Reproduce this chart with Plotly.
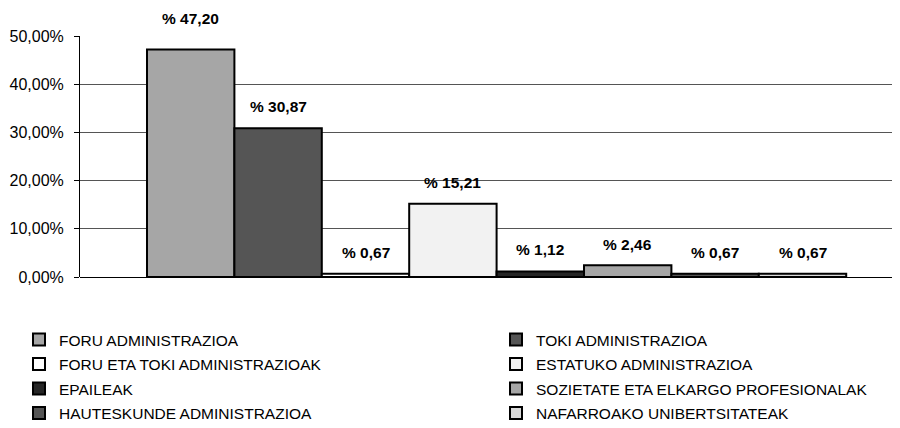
import plotly.graph_objects as go

series_names = [
    "FORU ADMINISTRAZIOA",
    "TOKI ADMINISTRAZIOA",
    "FORU ETA TOKI ADMINISTRAZIOAK",
    "ESTATUKO ADMINISTRAZIOA",
    "EPAILEAK",
    "SOZIETATE ETA ELKARGO PROFESIONALAK",
    "HAUTESKUNDE ADMINISTRAZIOA",
    "NAFARROAKO UNIBERTSITATEAK",
]
values = [47.20, 30.87, 0.67, 15.21, 1.12, 2.46, 0.67, 0.67]
label_texts = ["% 47,20", "% 30,87", "% 0,67", "% 15,21", "% 1,12", "% 2,46", "% 0,67", "% 0,67"]
colors = ["#a6a6a6", "#555555", "#ffffff", "#f2f2f2", "#262626", "#a6a6a6", "#555555", "#d9d9d9"]
label_shift = [31, 22, 21, 21, 22, 21, 21, 21]
y_ticks = [0, 10, 20, 30, 40, 50]
y_tick_text = ["0,00%", "10,00%", "20,00%", "30,00%", "40,00%", "50,00%"]

FONT = "Liberation Sans, Arial, sans-serif"

fig = go.Figure()
for i, (name, v, c) in enumerate(zip(series_names, values, colors)):
    fig.add_trace(go.Bar(
        x=[i], y=[v], name=name, width=1,
        marker=dict(color=c, line=dict(color="#000000", width=2)),
        legend="legend" if i % 2 == 0 else "legend2",
        legendgroup=name,
        hoverinfo="skip",
    ))
    fig.add_annotation(
        x=i, y=v, text="<b>" + label_texts[i] + "</b>", showarrow=False,
        yshift=label_shift[i], font=dict(family=FONT, size=15.5, color="#000"),
    )

fig.update_layout(
    width=900, height=428,
    margin=dict(l=72, r=0, t=28, b=159, autoexpand=False),
    paper_bgcolor="white", plot_bgcolor="white",
    barmode="overlay",
    font=dict(family=FONT, size=12, color="#000"),
    xaxis=dict(range=[-1.2666, 8.207], showticklabels=False, showgrid=False,
               zeroline=False, showline=False, ticks=""),
    yaxis=dict(range=[0, 50], tickvals=y_ticks, ticktext=y_tick_text,
               showgrid=True, gridcolor="#555555", gridwidth=1,
               showline=True, linecolor="#000", linewidth=1,
               ticks="outside", ticklen=5, tickcolor="#000",
               ticklabelstandoff=7,
               zeroline=True, zerolinecolor="#000", zerolinewidth=1,
               tickfont=dict(family=FONT, size=16)),
    legend=dict(xref="container", yref="container", x=11/900, y=1 - 315/428,
                xanchor="left", yanchor="top", tracegroupgap=1.3,
                font=dict(family=FONT, size=15.5), bgcolor="rgba(0,0,0,0)"),
    legend2=dict(xref="container", yref="container", x=488/900, y=1 - 315/428,
                 xanchor="left", yanchor="top", tracegroupgap=1.3,
                 font=dict(family=FONT, size=15.5), bgcolor="rgba(0,0,0,0)"),
    showlegend=True,
)

fig.write_html("out.html")
